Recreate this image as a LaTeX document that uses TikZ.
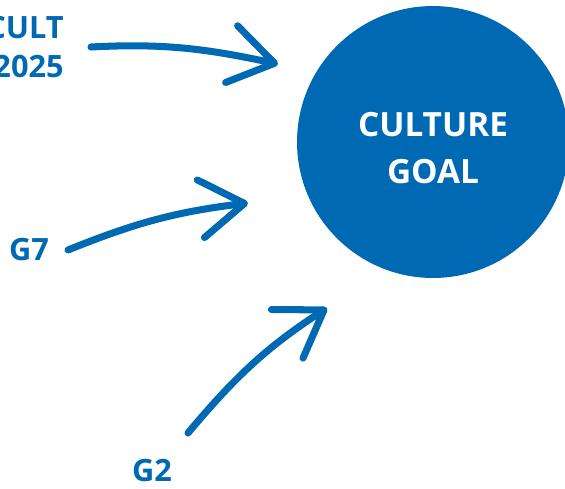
\documentclass[tikz,border=0pt]{standalone}
\usepackage{fontspec}
\setmainfont{Open Sans}
\usetikzlibrary{arrows.meta}
\definecolor{goalblue}{RGB}{0,105,180}

\begin{document}
\begin{tikzpicture}[x=0.02cm, y=0.02cm,
    label/.style={inner sep=0pt, text=goalblue, font=\bfseries\fontsize{17.5}{22}\selectfont},
    pointer/.style={goalblue, line width=4pt, line cap=round,
        -{Straight Barb[length=25pt, width=33pt, line cap=round, line join=round]}}]
    \useasboundingbox (0,0) rectangle (565,488);

    % The goal circle
    \node (goal) [circle, fill=goalblue, minimum size=5.44cm, inner sep=0pt] at (433,346) {};
    \node (goaltext) [align=center, text=white, font=\bfseries\fontsize{19}{26.5}\selectfont,
        yshift=-0.12cm] at (goal.center) {CULTURE\\GOAL};

    % Source labels
    \node (cult) [label, anchor=east, align=right] at (64,441) {CULT\\2025};  % top left
    \node (g7) [label] at (29,238) {G7};  % middle left
    \node (g2) [label] at (152,17) {G2};  % bottom

    % Arrow ends
    \coordinate (cultstart) at (91,441);
    \coordinate (cultend) at (278,424);
    \coordinate (g7start) at (68,238);
    \coordinate (g7end) at (248,285);
    \coordinate (g2start) at (188,55);
    \coordinate (g2end) at (327,180);

    % Hand drawn arrows towards the goal
    \draw[pointer] (cultstart) to[out=3, in=168] (cultend);
    \draw[pointer] (g7start) to[out=22, in=187] (g7end);
    \draw[pointer] (g2start) to[out=50, in=213] (g2end);
\end{tikzpicture}
\end{document}
